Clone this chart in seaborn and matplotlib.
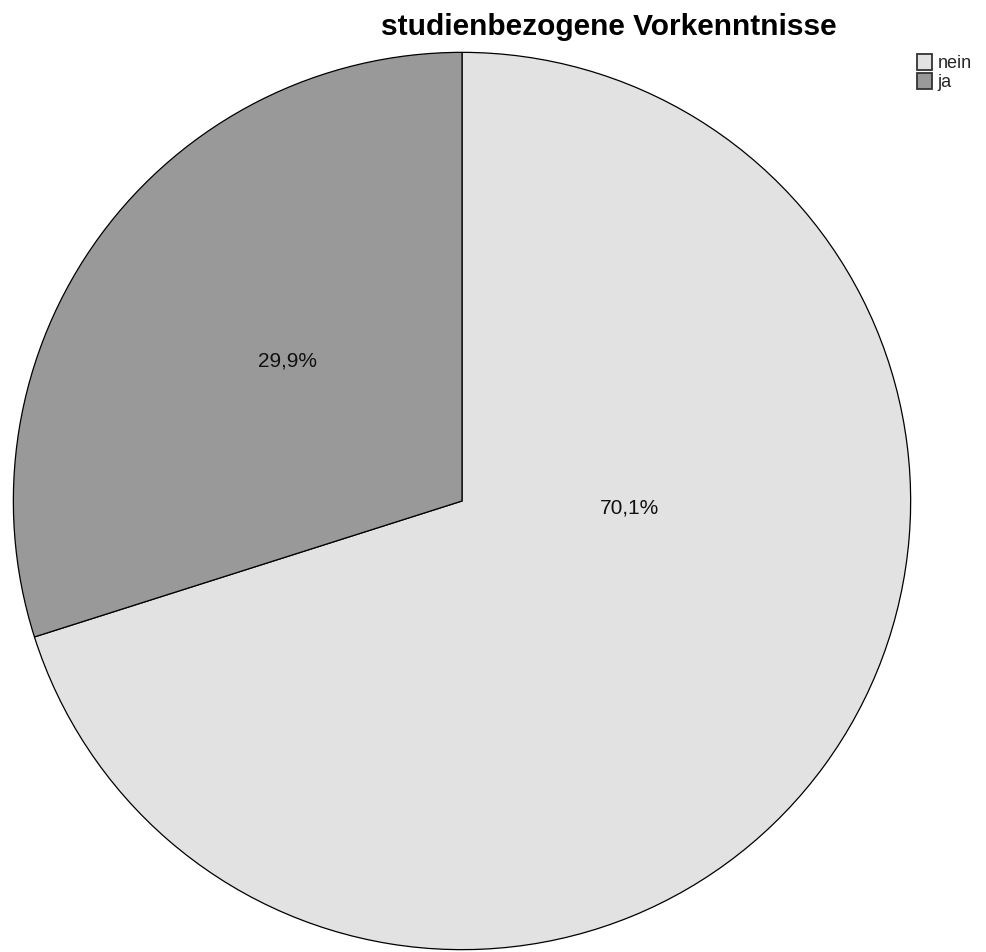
import matplotlib
matplotlib.use("Agg")
import matplotlib.pyplot as plt
import seaborn as sns
from matplotlib.patches import Patch

sns.set_theme(style="white")
plt.rcParams['font.family'] = ['Liberation Sans', 'DejaVu Sans']

categories = ["nein", "ja"]
values = [70.1, 29.9]
pct_labels = ["70,1%", "29,9%"]
colors = ["#e2e2e2", "#999999"]

W, H = 987, 952
fig = plt.figure(figsize=(W / 100, H / 100), dpi=100)
fig.patch.set_facecolor("white")
# pie circle: center (462, 501) px, radius 450 px
cx, cy, r = 462, 501, 450
ax = fig.add_axes([(cx - r) / W, (H - cy - r) / H, 2 * r / W, 2 * r / H])
wedges, _ = ax.pie(values, colors=colors, startangle=90, counterclock=False,
                   radius=1, wedgeprops=dict(edgecolor="black", linewidth=0.9))
ax.set_xlim(-1.003, 1.003)
ax.set_ylim(-1.003, 1.003)
ax.set_aspect("equal")
ax.axis("off")

label_pos = [(0.373, -0.016), (-0.389, 0.313)]
for (x, y), t in zip(label_pos, pct_labels):
    ax.text(x, y, t, ha="center", va="center", fontsize=15, color="#111111")

fig.text(609 / W, 1 - 35 / H, "studienbezogene Vorkenntnisse", ha="center", va="baseline",
         fontsize=21.5, fontweight="bold", color="black")

handles = [Patch(facecolor=c, edgecolor="#333333", linewidth=1.3) for c in colors]
leg = fig.legend(handles, categories, loc="upper left", bbox_to_anchor=(917 / W, 1 - 54 / H),
                 frameon=False, fontsize=13, handlelength=0.85, handleheight=1.0,
                 handletextpad=0.3, labelspacing=0.05, borderpad=0, borderaxespad=0)

fig.savefig("out.png", dpi=100, facecolor="white")
